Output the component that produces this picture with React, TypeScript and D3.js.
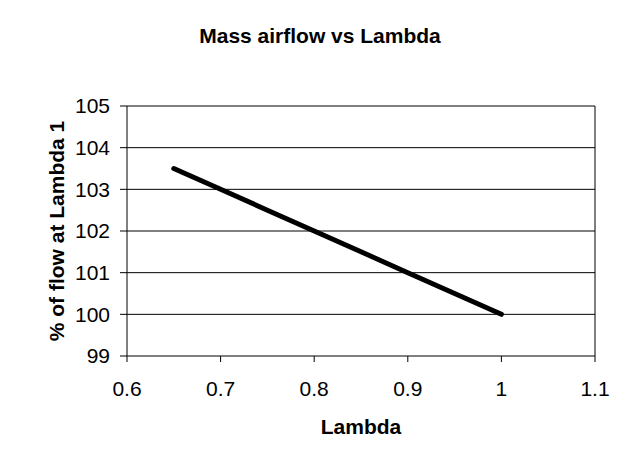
import * as d3 from "d3";

const lambdas = [0.65, 0.7, 0.75, 0.8, 0.85, 0.9, 0.95, 1.0];
const flowPct = [103.5, 103.0, 102.5, 102.0, 101.5, 101.0, 100.5, 100.0];
const xTicks = [0.6, 0.7, 0.8, 0.9, 1, 1.1];
const yTicks = [99, 100, 101, 102, 103, 104, 105];

const W = 638;
const H = 475;
const M = { top: 106, right: 43, bottom: 119, left: 127 };
const FONT = "Arial, 'Liberation Sans', sans-serif";
const FS = 21;

const App = () => {
  const x = d3.scaleLinear().domain([0.6, 1.1]).range([M.left, W - M.right]);
  const y = d3.scaleLinear().domain([99, 105]).range([H - M.bottom, M.top]);

  const line = d3
    .line<number>()
    .x((d) => x(d))
    .y((_, i) => y(flowPct[i]));

  const x0 = x(0.6);
  const x1 = x(1.1);
  const yb = y(99);
  const yt = y(105);

  return (
    <svg
      width={W}
      height={H}
      style={{ position: "absolute", left: 0, top: 0, background: "#fff" }}
      fontFamily={FONT}
    >
      <rect width={W} height={H} fill="#fff" />
      <text x={320} y={43} textAnchor="middle" fontSize={FS} fontWeight="bold">
        Mass airflow vs Lambda
      </text>

      {yTicks.map((t) => (
        <g key={t}>
          <line x1={x0 - 7} x2={x1} y1={y(t)} y2={y(t)} stroke="#000" strokeWidth={1} />
          <text x={x0 - 17} y={y(t)} dy="0.35em" textAnchor="end" fontSize={FS}>
            {t}
          </text>
        </g>
      ))}

      {xTicks.map((t) => (
        <g key={t}>
          <line x1={x(t)} x2={x(t)} y1={yb} y2={yb + 6} stroke="#000" strokeWidth={1} />
          <text x={x(t)} y={yb + 40} textAnchor="middle" fontSize={FS}>
            {t}
          </text>
        </g>
      ))}

      <line x1={x0} x2={x0} y1={yt} y2={yb} stroke="#000" strokeWidth={1} />
      <line x1={x1} x2={x1} y1={yt} y2={yb} stroke="#000" strokeWidth={1} />

      <path
        d={line(lambdas) ?? ""}
        fill="none"
        stroke="#000"
        strokeWidth={5}
        strokeLinecap="round"
        strokeLinejoin="round"
      />

      <text x={(x0 + x1) / 2} y={434} textAnchor="middle" fontSize={FS} fontWeight="bold">
        Lambda
      </text>
      <text
        transform={`translate(64,${(yt + yb) / 2}) rotate(-90)`}
        textAnchor="middle"
        fontSize={FS}
        fontWeight="bold"
      >
        % of flow at Lambda 1
      </text>
    </svg>
  );
};

export default App;
